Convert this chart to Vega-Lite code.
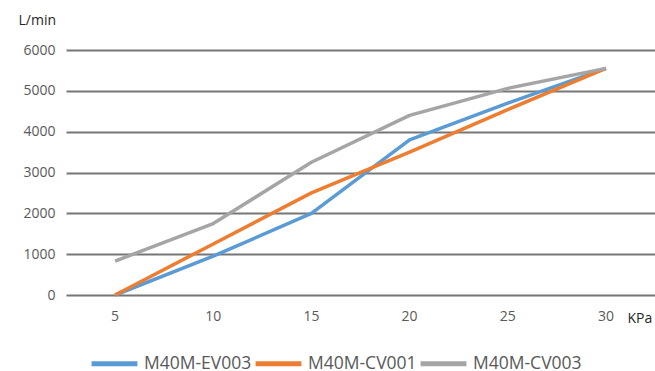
{
  "$schema": "https://vega.github.io/schema/vega-lite/v6.json",
  "width": 589,
  "height": 245,
  "autosize": {"type": "none"},
  "padding": {"left": 66, "top": 50, "right": 0, "bottom": 76},
  "background": "white",
  "config": {
    "font": "Open Sans",
    "view": {"stroke": null}
  },
  "data": {
    "values": [
      {"kpa": "5", "series": "M40M-EV003", "flow": 0},
      {"kpa": "10", "series": "M40M-EV003", "flow": 950},
      {"kpa": "15", "series": "M40M-EV003", "flow": 2000},
      {"kpa": "20", "series": "M40M-EV003", "flow": 3800},
      {"kpa": "25", "series": "M40M-EV003", "flow": 4700},
      {"kpa": "30", "series": "M40M-EV003", "flow": 5550},
      {"kpa": "5", "series": "M40M-CV001", "flow": 0},
      {"kpa": "10", "series": "M40M-CV001", "flow": 1250},
      {"kpa": "15", "series": "M40M-CV001", "flow": 2500},
      {"kpa": "20", "series": "M40M-CV001", "flow": 3500},
      {"kpa": "25", "series": "M40M-CV001", "flow": 4540},
      {"kpa": "30", "series": "M40M-CV001", "flow": 5550},
      {"kpa": "5", "series": "M40M-CV003", "flow": 830},
      {"kpa": "10", "series": "M40M-CV003", "flow": 1750},
      {"kpa": "15", "series": "M40M-CV003", "flow": 3250},
      {"kpa": "20", "series": "M40M-CV003", "flow": 4400},
      {"kpa": "25", "series": "M40M-CV003", "flow": 5060},
      {"kpa": "30", "series": "M40M-CV003", "flow": 5550}
    ]
  },
  "mark": {"type": "line", "strokeWidth": 3.5, "strokeJoin": "round"},
  "encoding": {
    "x": {
      "field": "kpa",
      "type": "ordinal",
      "sort": ["5", "10", "15", "20", "25", "30"],
      "scale": {"type": "band", "paddingInner": 0, "paddingOuter": 0},
      "axis": {
        "labelAngle": 0,
        "domain": false,
        "ticks": false,
        "grid": false,
        "labelFontSize": 14,
        "labelColor": "#595959",
        "labelPadding": 14,
        "title": "KPa",
        "titleFontSize": 14,
        "titleFontWeight": "normal",
        "titleColor": "#262626",
        "titleAlign": "left",
        "titleAnchor": "start",
        "titleBaseline": "middle",
        "titleX": 561,
        "titleY": 23
      }
    },
    "y": {
      "field": "flow",
      "type": "quantitative",
      "scale": {"domain": [0, 6000]},
      "axis": {
        "values": [0, 1000, 2000, 3000, 4000, 5000, 6000],
        "format": "d",
        "domain": false,
        "ticks": false,
        "grid": true,
        "gridColor": "#767676",
        "gridWidth": 2,
        "labelFontSize": 14,
        "labelColor": "#595959",
        "labelPadding": 11,
        "title": "L/min",
        "titleAngle": 0,
        "titleFontSize": 14,
        "titleFontWeight": "normal",
        "titleColor": "#262626",
        "titleAlign": "left",
        "titleBaseline": "middle",
        "titleX": -48,
        "titleY": -30
      }
    },
    "color": {
      "field": "series",
      "type": "nominal",
      "scale": {
        "domain": ["M40M-EV003", "M40M-CV001", "M40M-CV003"],
        "range": ["#5B9BD5", "#ED7D31", "#A5A5A5"]
      },
      "legend": {
        "title": null,
        "orient": "none",
        "direction": "horizontal",
        "legendX": 23,
        "legendY": 288,
        "symbolType": "stroke",
        "symbolSize": 2100,
        "symbolStrokeWidth": 5,
        "labelFontSize": 17.5,
        "labelColor": "#595959",
        "labelOffset": 4,
        "columnPadding": -7
      }
    }
  }
}
